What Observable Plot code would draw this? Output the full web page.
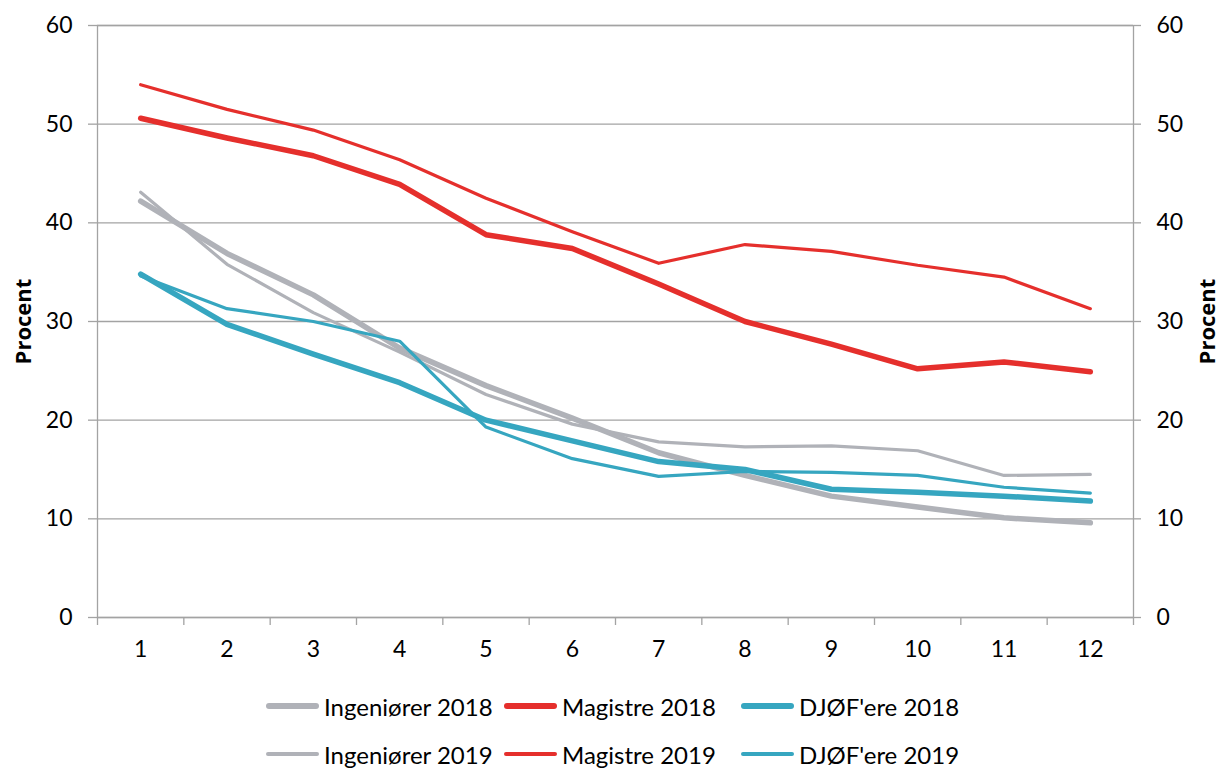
<!DOCTYPE html>
<html>
<head>
<meta charset="utf-8">
<script src="https://cdn.jsdelivr.net/npm/d3@7"></script>
<script src="https://cdn.jsdelivr.net/npm/@observablehq/plot@0.6"></script>
<style>
  body { margin: 0; background: #fff; font-family: Lato, "Open Sans", sans-serif; }
  #legend { position: relative; width: 1220px; height: 94px; }
  .item { position: absolute; display: flex; align-items: center; height: 30px; font-size: 24px; color: #000; white-space: nowrap; }
  .sw { display: inline-block; width: 53px; border-radius: 4px; margin-right: 5px; }
</style>
</head>
<body>
<div id="chart"></div>
<div id="legend"></div>
<script>
const cats = [1, 2, 3, 4, 5, 6, 7, 8, 9, 10, 11, 12];
const yTicks = [0, 10, 20, 30, 40, 50, 60];
const seriesNames = ["Ingeniører 2018", "Magistre 2018", "DJØF'ere 2018", "Ingeniører 2019", "Magistre 2019", "DJØF'ere 2019"];
const ing2018 = [42.2, 36.9, 32.7, 27.3, 23.5, 20.2, 16.7, 14.4, 12.3, 11.2, 10.1, 9.6];
const mag2018 = [50.6, 48.6, 46.8, 43.9, 38.8, 37.4, 33.8, 30.0, 27.7, 25.2, 25.9, 24.9];
const dj2018  = [34.8, 29.7, 26.7, 23.8, 20.0, 17.9, 15.8, 15.0, 13.0, 12.7, 12.3, 11.8];
const ing2019 = [43.1, 35.8, 30.9, 26.9, 22.6, 19.6, 17.8, 17.3, 17.4, 16.9, 14.4, 14.5];
const mag2019 = [54.0, 51.5, 49.4, 46.4, 42.5, 39.1, 35.9, 37.8, 37.1, 35.7, 34.5, 31.3];
const dj2019  = [34.6, 31.3, 30.0, 28.0, 19.3, 16.1, 14.3, 14.8, 14.7, 14.4, 13.2, 12.6];

const values = [ing2018, mag2018, dj2018, ing2019, mag2019, dj2019];
const colors = ["#b0b2b8", "#e52f2c", "#36a6c0", "#b0b2b8", "#e52f2c", "#36a6c0"];
const widths = [5.5, 5.5, 5.5, 3.2, 3.2, 3.2];

const table = [];
seriesNames.forEach((s, si) => cats.forEach((c, i) => table.push({series: s, x: c, y: values[si][i]})));

const bounds = cats.map(c => c - 0.5).concat([cats[cats.length - 1] + 0.5]);

const lineMarks = seriesNames.map((s, si) =>
  Plot.line(table.filter(d => d.series === s), {
    x: "x", y: "y", stroke: colors[si], strokeWidth: widths[si],
    strokeLinejoin: "round", strokeLinecap: "round"
  })
);

const chart = Plot.plot({
  width: 1220,
  height: 675,
  marginLeft: 97,
  marginRight: 87,
  marginTop: 25,
  marginBottom: 58,
  x: {domain: [bounds[0], bounds[bounds.length - 1]]},
  y: {domain: [0, 60]},
  style: {fontFamily: "Lato, 'Open Sans', sans-serif", fontSize: "23px", color: "#000", background: "#fff"},
  marks: [
    Plot.gridY(yTicks, {stroke: "#a3a3a3", strokeOpacity: 1, strokeWidth: 1.3}),
    Plot.frame({stroke: "#a3a3a3", strokeWidth: 1.3}),
    Plot.axisY({anchor: "left", ticks: yTicks, tickSize: 9, tickPadding: 16, label: null, stroke: "#a3a3a3", strokeWidth: 1.3, fill: "#000"}),
    Plot.axisY({anchor: "right", ticks: yTicks, tickSize: 7, tickPadding: 16, label: null, stroke: "#a3a3a3", strokeWidth: 1.3, fill: "#000"}),
    Plot.axisX({ticks: bounds, tickSize: 8, tickFormat: () => "", label: null, stroke: "#a3a3a3", strokeWidth: 1.3}),
    Plot.axisX({ticks: cats, tickSize: 0, tickPadding: 23, label: null, fill: "#000"}),
    Plot.text(["Procent"], {frameAnchor: "left", textAnchor: "middle", dx: -74, rotate: -90, fontWeight: "bold", fontFamily: "'Open Sans', Lato, sans-serif", fontSize: 22, fill: "#000"}),
    Plot.text(["Procent"], {frameAnchor: "right", textAnchor: "middle", dx: 74, rotate: -90, fontWeight: "bold", fontFamily: "'Open Sans', Lato, sans-serif", fontSize: 22, fill: "#000"}),
    ...lineMarks
  ]
});
document.getElementById("chart").appendChild(chart);

// Legend
const legend = document.getElementById("legend");
const lefts = [266, 504, 741];
const rowsTop = [16, 64];
seriesNames.forEach((s, si) => {
  const row = Math.floor(si / 3), col = si % 3;
  const it = document.createElement("div");
  it.className = "item";
  it.style.left = lefts[col] + "px";
  it.style.top = rowsTop[row] + "px";
  const sw = document.createElement("span");
  sw.className = "sw";
  sw.style.background = colors[si];
  sw.style.height = (row === 0 ? 6 : 4) + "px";
  it.appendChild(sw);
  it.appendChild(document.createTextNode(s));
  legend.appendChild(it);
});
</script>
</body>
</html>
